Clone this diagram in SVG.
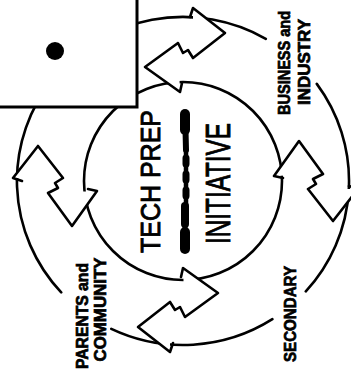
<svg xmlns="http://www.w3.org/2000/svg" width="351" height="373" viewBox="0 0 351 373">
<style>
.ln{fill:none;stroke:#000;stroke-width:2.6;stroke-linejoin:round;stroke-linecap:round}
.mask{fill:#fff;stroke:none}
.lbl{font-family:"Liberation Sans",Arial,sans-serif;font-weight:bold;font-size:16px;fill:#000;stroke:#000;stroke-width:0.7}
.big{font-family:"Liberation Sans",Arial,sans-serif;fill:#000;stroke:#000;stroke-width:0.9}
.smudge{fill:none;stroke:#000;stroke-linecap:round}
</style>
<defs>
<g id="arrowpair">
<polygon class="mask" points="193,8 225,33 193,58"/>
<polygon class="mask" points="178,43 145,67 180,92"/>
<polyline class="ln" points="190,17 193,8 225,33 193,58 188,50 183,53 178,43 145,67 180,92 182,83"/>
</g>
</defs>
<rect width="351" height="373" fill="#fff"/>
<g id="center-node">
<circle class="ln" cx="183" cy="181" r="99"/>
<text class="big" transform="translate(160,181.5) rotate(-90)" text-anchor="middle" font-size="27" textLength="143" lengthAdjust="spacingAndGlyphs">TECH PREP</text>
<g id="subtitle-smudge">
<path class="smudge" stroke-width="10" d="M185,114 L185,130"/>
<path class="smudge" stroke-width="6" d="M185.5,130 L186,150"/>
<path class="smudge" stroke-width="4.5" d="M186,150 L186,206"/>
<path class="smudge" stroke-width="7" d="M186,158 L186,164 M186,174 L186,180 M186,190 L186,196"/>
<path class="smudge" stroke-width="8" d="M185,206 L185,224"/>
<path class="smudge" stroke-width="5" d="M185,224 L185,232"/>
<path class="smudge" stroke-width="10" d="M185,232 L185,249"/>
</g>
<text class="big" transform="translate(230,183.5) rotate(-90)" text-anchor="middle" font-size="35" textLength="121" lengthAdjust="spacingAndGlyphs">INITIATIVE</text>
</g>
<g id="connectors">
<path class="ln" d="M316.8,83.9 A166,164 0 0 1 305.8,291.4 M272.4,319.2 A166,164 0 0 1 111.3,328.9 M61.2,292.4 A166,164 0 0 1 265.8,38.8"/>
<use href="#arrowpair"/>
<use href="#arrowpair" transform="translate(2,-2) rotate(90 183 181)"/>
<use href="#arrowpair" transform="translate(-3,-2) rotate(180 183 181)"/>
<use href="#arrowpair" transform="translate(3,7) rotate(270 183 181)"/>
</g>
<g id="business-industry">
<text class="lbl" transform="translate(290,63) rotate(-90)" text-anchor="middle" textLength="104" lengthAdjust="spacingAndGlyphs">BUSINESS and</text>
<text class="lbl" transform="translate(310,62) rotate(-90)" text-anchor="middle" textLength="86" lengthAdjust="spacingAndGlyphs">INDUSTRY</text>
</g>
<g id="secondary">
<text class="lbl" transform="translate(296,314) rotate(-90)" text-anchor="middle" textLength="96" lengthAdjust="spacingAndGlyphs">SECONDARY</text>
</g>
<g id="parents-community">
<text class="lbl" transform="translate(88,316) rotate(-90)" text-anchor="middle" textLength="106" lengthAdjust="spacingAndGlyphs">PARENTS and</text>
<text class="lbl" transform="translate(106,309.5) rotate(-90)" text-anchor="middle" textLength="104" lengthAdjust="spacingAndGlyphs">COMMUNITY</text>
</g>
<g id="covered-box">
<rect x="-5" y="-5" width="142" height="112" fill="#fff" stroke="#000" stroke-width="3"/>
<circle cx="55" cy="51" r="9" fill="#000"/>
</g>
</svg>
